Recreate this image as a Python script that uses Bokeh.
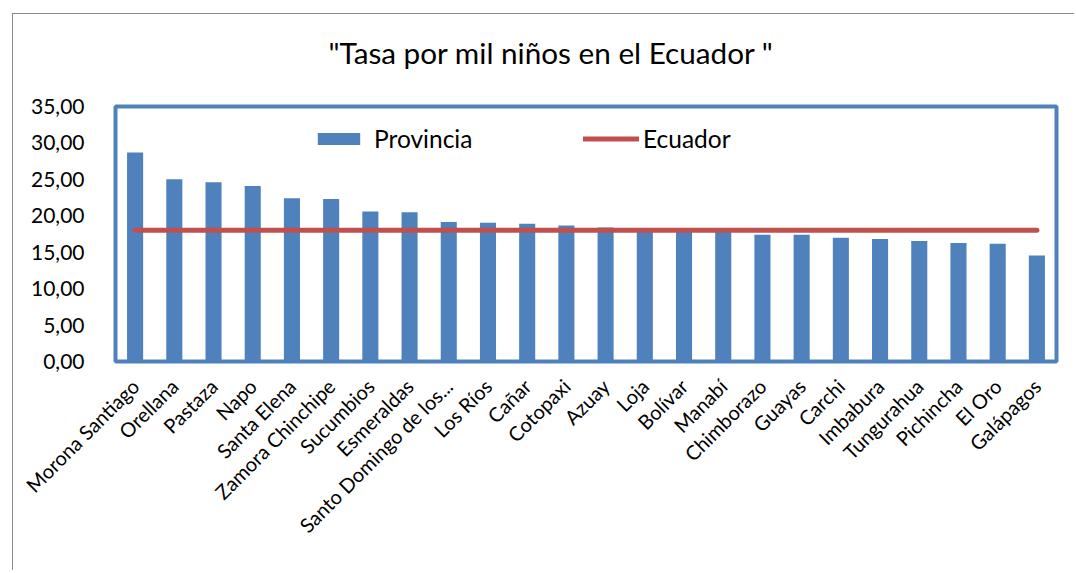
import math
from bokeh.plotting import figure
from bokeh.models import (Range1d, FactorRange, FixedTicker, CustomJSTickFormatter,
                          Legend, LegendItem, Title)
from bokeh.embed import file_html
from bokeh.resources import INLINE

categories = ["Morona Santiago", "Orellana", "Pastaza", "Napo", "Santa Elena",
              "Zamora Chinchipe", "Sucumbios", "Esmeraldas", "Santo Domingo de los...",
              "Los Ríos", "Cañar", "Cotopaxi", "Azuay", "Loja", "Bolívar", "Manabí",
              "Chimborazo", "Guayas", "Carchi", "Imbabura", "Tungurahua", "Pichincha",
              "El Oro", "Galápagos"]
provincia = [28.7, 25.0, 24.6, 24.1, 22.4, 22.3, 20.6, 20.5, 19.15, 19.05, 18.9,
             18.65, 18.4, 18.2, 18.1, 17.95, 17.4, 17.4, 17.0, 16.8, 16.55, 16.25,
             16.15, 14.55]
ecuador_rate = 18.0
y_ticks = [0, 5, 10, 15, 20, 25, 30, 35]
title_text = '"Tasa por mil niños en el Ecuador "'
series_names = ["Provincia", "Ecuador"]

FONT = "Lato"
BLUE = "#4f81bd"
RED = "#c0504d"

p = figure(width=1062, height=557,
           x_range=FactorRange(factors=categories),
           y_range=Range1d(0, 35),
           output_backend="svg", toolbar_location=None,
           min_border_left=102, min_border_right=19,
           min_border_top=92, min_border_bottom=210)
p.margin = (13, 0, 0, 12)
p.styles = {"border-left": "1px solid #8c8c8c", "border-top": "1px solid #8c8c8c"}

# small spacer between frame and title, so the title sits higher
p.add_layout(Title(text=" ", text_font_size="1px", standoff=16), "above")

p.title = Title(text=title_text, align="left", offset=213, standoff=36,
                text_font=FONT, text_font_size="29.7px", text_font_style="normal",
                text_color="#000000")

p.background_fill_color = "white"
p.border_fill_color = "white"
p.outline_line_color = BLUE
p.outline_line_width = 4
p.xgrid.visible = False
p.ygrid.visible = False

bars = p.vbar(x=categories, top=provincia, width=0.41, fill_color=BLUE, line_color=None)
line = p.line(x=[categories[0], categories[-1]], y=[ecuador_rate, ecuador_rate],
              line_color=RED, line_width=5, line_cap="round")

yax = p.yaxis[0]
yax.ticker = FixedTicker(ticks=y_ticks)
yax.formatter = CustomJSTickFormatter(code="return tick.toFixed(2).replace('.', ',');")
yax.axis_line_color = None
yax.major_tick_line_color = None
yax.minor_tick_line_color = None
yax.major_label_standoff = 25
yax.major_label_text_font = FONT
yax.major_label_text_font_size = "21px"
yax.major_label_text_color = "#000000"

xax = p.xaxis[0]
xax.axis_line_color = None
xax.major_tick_line_color = None
xax.minor_tick_line_color = None
xax.major_label_orientation = math.pi / 4
xax.major_label_standoff = 15
xax.major_label_text_font = FONT
xax.major_label_text_font_size = "20px"
xax.major_label_text_color = "#000000"

def make_legend(item, loc, gw, gh, standoff):
    lg = Legend(items=[item], location=loc, orientation="horizontal",
                border_line_color=None, background_fill_alpha=0,
                padding=0, margin=0, spacing=0,
                glyph_width=gw, glyph_height=gh, label_standoff=standoff,
                label_text_font=FONT, label_text_font_size="24.5px",
                label_text_color="#000000")
    p.add_layout(lg, "center")
    return lg

make_legend(LegendItem(label=series_names[0], renderers=[bars]), (197, 208), 53, 15, 9)
make_legend(LegendItem(label=series_names[1], renderers=[line]), (468, 208), 56, 15, 4)

open("out.html", "w").write(file_html(p, INLINE))
